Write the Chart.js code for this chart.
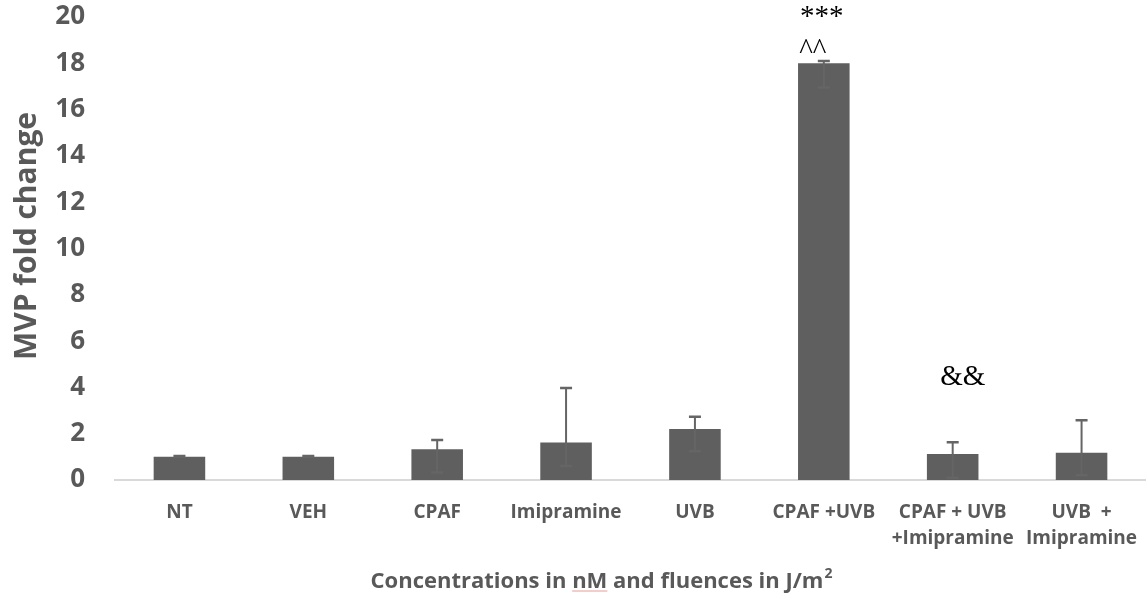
<!DOCTYPE html>
<html>
<head>
<meta charset="utf-8">
<script src="https://cdn.jsdelivr.net/npm/chart.js@4.4.1/dist/chart.umd.min.js"></script>
<style>
  body { margin: 0; background: #fff; }
  #wrap { width: 1146px; height: 596px; position: relative; }
</style>
</head>
<body>
<div id="wrap"><canvas id="mvpChart"></canvas></div>
<script>
const categories = [
    'NT', 'VEH', 'CPAF', 'Imipramine', 'UVB', 'CPAF +UVB',
    ['CPAF + UVB', '+Imipramine'], ['UVB  +', 'Imipramine']
];
const foldChange = [1.0, 1.0, 1.33, 1.62, 2.2, 18.0, 1.12, 1.18];
const errorHigh = [1.04, 1.04, 1.73, 3.97, 2.73, 18.1, 1.63, 2.58];
const errorLow = [1.0, 1.0, 0.32, 0.6, 1.24, 16.95, 0.1, 0.2];
const yTicks = [0, 2, 4, 6, 8, 10, 12, 14, 16, 18, 20];

// significance marks: category index, text, value where the text sits
const marks = [
    { index: 5, text: '***', at: 20.0, dx: -2 },
    { index: 5, text: '^^', at: 18.5, dx: -11 },
    { index: 6, text: '&&', at: 4.45, dx: 10 }
];

const grey = '#595959';
const font = '"Open Sans"';

const errorBars = {
    id: 'errorBars',
    afterDatasetsDraw(chart) {
        const c = chart.ctx;
        const y = chart.scales.y;
        const meta = chart.getDatasetMeta(0);
        c.save();
        c.strokeStyle = '#656565';
        meta.data.forEach((bar, i) => {
            const top = y.getPixelForValue(errorHigh[i]);
            const bottom = y.getPixelForValue(errorLow[i]);
            c.lineWidth = 2;
            c.beginPath();
            c.moveTo(bar.x, top);
            c.lineTo(bar.x, bottom);
            c.stroke();
            c.lineWidth = 2.5;
            c.beginPath();
            c.moveTo(bar.x - 6, top);
            c.lineTo(bar.x + 6, top);
            c.moveTo(bar.x - 6, bottom);
            c.lineTo(bar.x + 6, bottom);
            c.stroke();
        });
        c.restore();
    }
};

const extraText = {
    id: 'extraText',
    afterDraw(chart) {
        const c = chart.ctx;
        const y = chart.scales.y;
        const meta = chart.getDatasetMeta(0);
        c.save();
        c.fillStyle = '#000';
        c.textAlign = 'center';
        c.textBaseline = 'middle';
        c.font = '29px "Liberation Serif"';
        marks.forEach(m => {
            c.fillText(m.text, meta.data[m.index].x + m.dx, y.getPixelForValue(m.at));
        });

        // y axis title, sits a bit above the middle of the plot in the original
        c.fillStyle = grey;
        c.font = 'bold 30px ' + font;
        c.save();
        c.translate(27, 236);
        c.rotate(-Math.PI / 2);
        c.fillText('MVP fold change', 0, 0);
        c.restore();

        // x axis title, drawn by hand because it is not centred on the plot area
        const parts = ['Concentrations in ', 'nM', ' and fluences in J/m'];
        c.font = 'bold 22px ' + font;
        c.textAlign = 'left';
        const widths = parts.map(p => c.measureText(p).width);
        c.font = 'bold 14px ' + font;
        const supW = c.measureText('2').width;
        const total = widths.reduce((a, b) => a + b, 0) + supW;
        let x = 601 - total / 2;
        const base = 588;
        c.font = 'bold 22px ' + font;
        c.textBaseline = 'alphabetic';
        c.fillText(parts[0], x, base);
        const nmX = x + widths[0];
        c.fillText(parts[1], nmX, base);
        c.fillText(parts[2], nmX + widths[1], base);
        c.font = 'bold 14px ' + font;
        c.fillText('2', nmX + widths[1] + widths[2] + 1, base - 10);
        c.strokeStyle = '#e89a9a';
        c.lineWidth = 1;
        c.beginPath();
        c.moveTo(nmX, base + 3);
        c.lineTo(nmX + widths[1], base + 3);
        c.stroke();
        c.restore();
    }
};

new Chart(document.getElementById('mvpChart'), {
    type: 'bar',
    data: {
        labels: categories,
        datasets: [{
            data: foldChange,
            backgroundColor: '#5f5f5f',
            borderWidth: 0,
            categoryPercentage: 1.0,
            barPercentage: 0.4
        }]
    },
    options: {
        responsive: true,
        maintainAspectRatio: false,
        animation: false,
        layout: { padding: 0 },
        plugins: {
            legend: { display: false },
            tooltip: { enabled: false }
        },
        scales: {
            x: {
                afterFit(axis) {
                    axis.height = 116;
                    axis.paddingLeft = 0;
                    axis.paddingRight = 0;
                },
                grid: { display: false, drawTicks: false },
                border: { color: '#d9d9d9', width: 2 },
                ticks: {
                    color: grey,
                    font: { family: font, size: 19, weight: 'bold', lineHeight: 1.4 },
                    padding: 19,
                    maxRotation: 0,
                    autoSkip: false
                }
            },
            y: {
                min: 0,
                max: 20,
                afterFit(axis) {
                    axis.width = 115;
                    axis.paddingTop = 17;
                    axis.paddingBottom = 0;
                },
                afterBuildTicks(axis) {
                    axis.ticks = yTicks.map(v => ({ value: v }));
                },
                grid: { display: false, drawTicks: false },
                border: { display: false },
                ticks: {
                    color: grey,
                    font: { family: font, size: 26, weight: 'bold' },
                    padding: 30
                }
            }
        }
    },
    plugins: [errorBars, extraText]
});
</script>
</body>
</html>
